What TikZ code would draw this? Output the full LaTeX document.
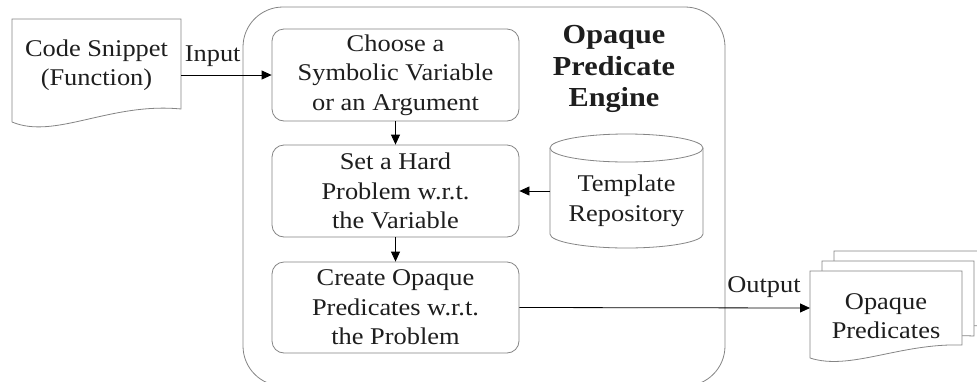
\documentclass[tikz,border=0pt]{standalone}
\usepackage{fontspec}
\setmainfont{Liberation Serif}[FakeStretch=1.1]
\usetikzlibrary{arrows.meta}
\definecolor{edgegray}{HTML}{858585}
\definecolor{ink}{HTML}{1E1E1E}
\tikzset{
  stepbox/.style={draw=edgegray, line width=0.8pt, rounded corners=12pt,
    minimum width=247pt, align=center, text=ink,
    font=\fontsize{24}{29.5}\selectfont},
  flow/.style={draw=black, line width=0.8pt, -{Triangle[length=10pt,width=9pt]}},
  lbl/.style={text=ink, align=center, inner sep=0pt, font=\fontsize{24}{29.5}\selectfont},
  outline/.style={draw=edgegray, line width=0.8pt, fill=white},
  anchorbox/.style={inner sep=0pt, outer sep=0pt}
}
\begin{document}
\begin{tikzpicture}[x=1pt, y=-1pt]
\useasboundingbox (0,0) rectangle (977,381);
\clip (0,0) rectangle (977,381);

% engine container
\draw[outline, rounded corners=40pt] (243,7) rectangle (725,386);
\node[text=ink, align=center, font=\bfseries\fontsize{27.5}{31.5}\selectfont] (title) at (614,69)
  {Opaque\\Predicate\\Engine};

% input document
\draw[outline] (12,122) -- (12,19) -- (181,19) -- (181,109)
  .. controls (110,102) and (55,140) .. (12,122);
\node[anchorbox, minimum width=169pt, minimum height=90pt] (code) at (96.5,64) {};
\node[lbl] at (96.5,65) {Code Snippet\\(Function)};

% processing steps
\node[stepbox, minimum height=92pt] (b1) at (395.5,75) {Choose a\\Symbolic Variable\\or an Argument};
\node[stepbox, minimum height=92pt] (b2) at (395.5,191) {Set a Hard\\Problem w.r.t.\\the Variable};
\node[stepbox, minimum height=91pt] (b3) at (395.5,307.5) {Create Opaque\\Predicates w.r.t.\\the Problem};

% template repository (cylinder)
\draw[outline] (550,148) -- (550,234) arc[start angle=180, end angle=360, x radius=76.5pt, y radius=14pt]
  -- (703,148);
\draw[outline] (626.5,148) ellipse[x radius=76.5pt, y radius=14pt];
\node[anchorbox, minimum width=153pt, minimum height=86pt] (repo) at (626.5,191) {};
\node[lbl] at (626.5,201) {Template\\Repository};

% output document stack
\draw[outline] (834,338) -- (834,251) -- (986,251) -- (986,326)
  .. controls (924,323) and (874,351) .. (834,338);
\draw[outline] (822,348) -- (822,261) -- (974,261) -- (974,336)
  .. controls (912,333) and (862,361) .. (822,348);
\draw[outline] (810,358) -- (810,271) -- (962,271) -- (962,345)
  .. controls (900,343) and (850,371) .. (810,358);
\node[anchorbox, minimum width=152pt, minimum height=74pt] (out) at (886,308) {};
\node[lbl] at (886,316) {Opaque\\Predicates};

% connectors
\draw[flow] (b1.west -| code.east) -- node[lbl, above=8pt, pos=0.35] {Input} (b1.west);
\draw[flow] (b1) -- (b2);
\draw[flow] (b2) -- (b3);
\draw[flow] (repo.west) -- (b2.east);
\draw[flow] (b3.east) -- (out.west);
\node[lbl] at (764,287) {Output};
\end{tikzpicture}
\end{document}
